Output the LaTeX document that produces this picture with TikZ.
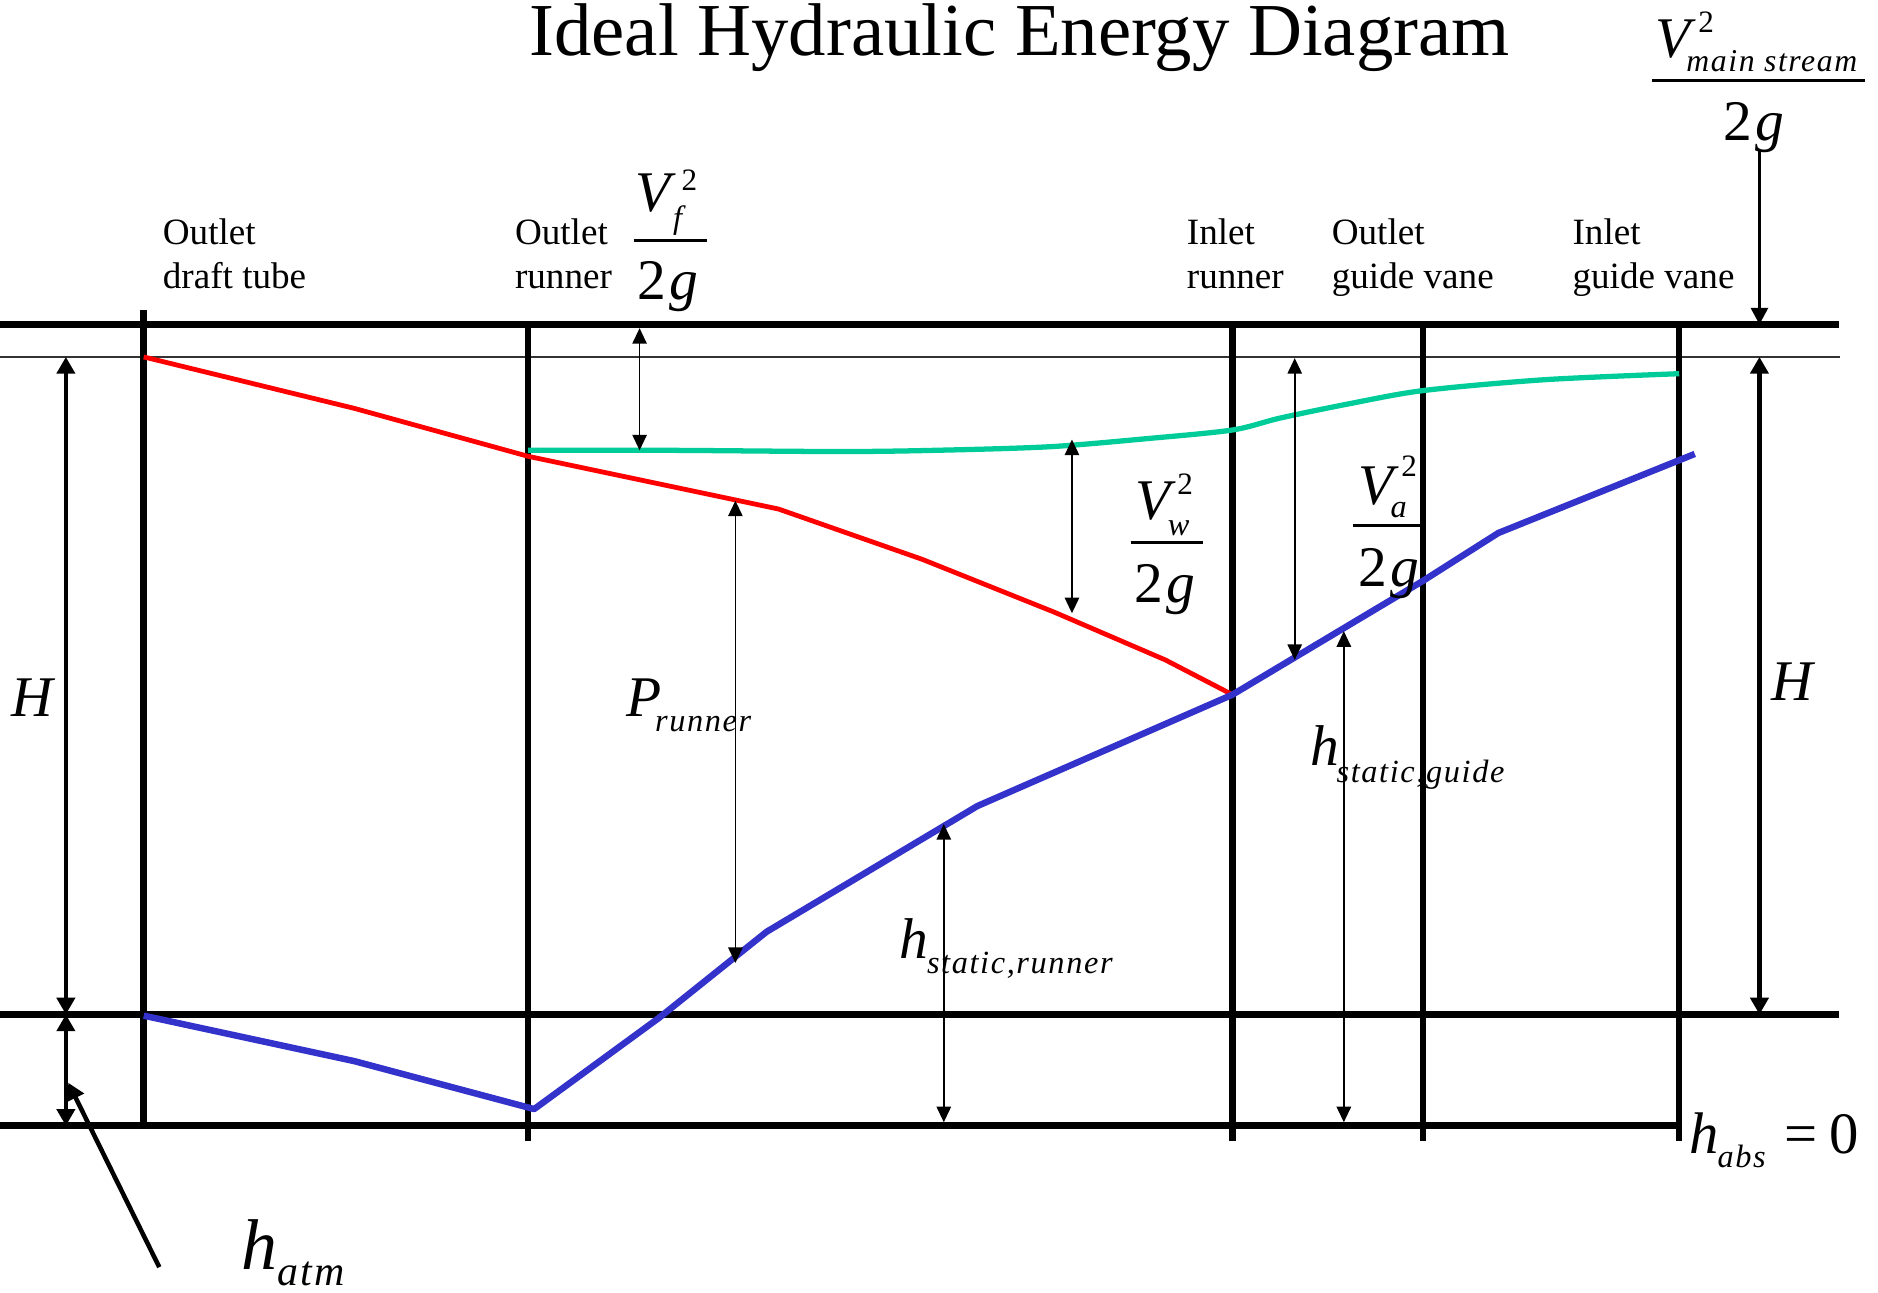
\documentclass[tikz,border=0pt]{standalone}
\usepackage{fontspec}
\setmainfont{Liberation Serif}
\newfontfamily\subfam{Liberation Serif}[LetterSpace=5]
\usetikzlibrary{arrows.meta}
\definecolor{eline}{RGB}{255,0,0}
\definecolor{gline}{RGB}{0,204,153}
\definecolor{bline}{RGB}{51,51,204}
\newcommand\fs[1]{\fontsize{#1}{#1}\selectfont}
\newcommand\twog{\upshape 2\hspace{3pt}\itshape g}
\begin{document}
\begin{tikzpicture}[x=1pt,y=-1pt,
  lbl/.style={inner sep=0pt, outer sep=0pt, anchor=base west},
  loc/.style={lbl, font=\fs{31}},
  mbig/.style={lbl, font=\fs{48}\itshape},
  msub/.style={lbl, font=\subfam\fs{27}\itshape},
  msup/.style={lbl, font=\fs{26}},
  fracbar/.style={line width=2.2pt},
  heavy/.style={line width=6pt},
  hairline/.style={line width=1.4pt, black!80},
  vbar/.style={line width=5.5pt},
  redl/.style={line width=4pt, eline, line join=round},
  greenl/.style={line width=4.4pt, gline, line join=round},
  bluel/.style={line width=5.4pt, bline, line join=round},
  dim/.style={line width=1.4pt, {Triangle[length=13pt,width=12pt]}-{Triangle[length=13pt,width=12pt]}},
  bigdim/.style={line width=3.8pt, {Triangle[length=14pt,width=15pt]}-{Triangle[length=14pt,width=15pt]}},
  downarrow/.style={line width=3pt, -{Triangle[length=14pt,width=14pt]}},
  pointer/.style={line width=3.8pt, -{Triangle[length=14pt,width=15pt]}}
]
\useasboundingbox (0,0) rectangle (1568,1079);

% grid lines
\draw[heavy] (0,271) -- (1535,271);
\draw[hairline] (0,298) -- (1536,298);
\draw[heavy] (0,847) -- (1535,847);
\draw[heavy] (0,940) -- (1404,940);
\draw[vbar] (120,259) -- (120,940);
\foreach \x in {441,1029,1188,1402} \draw[vbar] (\x,271) -- (\x,953);

% energy lines
\draw[greenl] plot[smooth,tension=0.5] coordinates {(441,376) (560,376) (700,377) (780,376) (876,373) (960,366) (1029,359) (1069,349) (1127,337) (1189,326) (1290,317) (1402,312)};
\draw[redl] (120,298) -- (296,341) -- (441,381) -- (650,425) -- (770,467) -- (880,511) -- (973,551) -- (1029,580);
\draw[bluel] (120,848) -- (296,886) -- (446,926) -- (550,850) -- (640,778) -- (816,673) -- (1029,580) -- (1188,485) -- (1251,445) -- (1415,379);

% coordinates for dimension arrows
\coordinate (hLt) at (55,298);  \coordinate (hLb) at (55,847);
\coordinate (aT) at (55,847);   \coordinate (aB) at (55,940);
\coordinate (hRt) at (1469,298); \coordinate (hRb) at (1469,847);
\coordinate (msT) at (1469,125); \coordinate (msB) at (1469,271);
\coordinate (vfT) at (534,274); \coordinate (vfB) at (534,376);
\coordinate (vwT) at (895,367); \coordinate (vwB) at (895,512);
\coordinate (prT) at (614,418); \coordinate (prB) at (614,804);
\coordinate (srT) at (788,688); \coordinate (srB) at (788,937);
\coordinate (vaT) at (1081,299); \coordinate (vaB) at (1081,551);
\coordinate (sgT) at (1122,527); \coordinate (sgB) at (1122,937);
\coordinate (pS) at (133,1058); \coordinate (pE) at (57,904);

\draw[bigdim] (hLt) -- (hLb);
\draw[bigdim] (aT) -- (aB);
\draw[bigdim] (hRt) -- (hRb);
\draw[downarrow] (msT) -- (msB);
\draw[dim] (vfT) -- (vfB);
\draw[dim] (vwT) -- (vwB);
\draw[dim] (prT) -- (prB);
\draw[dim] (srT) -- (srB);
\draw[dim] (vaT) -- (vaB);
\draw[dim] (sgT) -- (sgB);
\draw[pointer] (pS) -- (pE);

% title
\node[lbl, font=\fs{62.4}] (title) at (442,46) {Ideal Hydraulic Energy Diagram};

% location labels
\node[loc] (l1a) at (136,204) {Outlet};
\node[loc] (l1b) at (136,241) {draft tube};
\node[loc] (l2a) at (430,204) {Outlet};
\node[loc] (l2b) at (430,241) {runner};
\node[loc] (l3a) at (991,204) {Inlet};
\node[loc] (l3b) at (991,241) {runner};
\node[loc] (l4a) at (1112,204) {Outlet};
\node[loc] (l4b) at (1112,241) {guide vane};
\node[loc] (l5a) at (1313,204) {Inlet};
\node[loc] (l5b) at (1313,241) {guide vane};

% V_f^2/2g
\node[mbig] (vfV) at (531,177) {V};
\node[msub] (vfS) at (562,191) {f};
\node[msup] (vfP) at (569,159) {2};
\draw[fracbar] (529,201) -- (590,201);
\node[mbig] (vfD) at (532,250) {\twog};

% V_w^2/2g
\node[mbig] (vwV) at (948,434) {V};
\node[msub] (vwS) at (975,447) {w};
\node[msup] (vwP) at (983,413) {2};
\draw[fracbar] (944,453) -- (1004,453);
\node[mbig] (vwD) at (947,503) {\twog};

% V_a^2/2g
\node[mbig] (vaV) at (1134,421) {V};
\node[msub] (vaS) at (1161,432) {a};
\node[msup] (vaP) at (1170,398) {2};
\draw[fracbar] (1130,439) -- (1186,439);
\node[mbig] (vaD) at (1134,490) {\twog};

% V_mainstream^2/2g
\node[mbig] (msV) at (1382,48) {V};
\node[msub, font=\subfam\fs{26.5}\itshape] (msS) at (1408,60) {main stream};
\node[msup] (msP) at (1418,27) {2};
\draw[fracbar] (1379,67) -- (1557,67);
\node[mbig] (msD) at (1439,117) {\twog};

% H labels
\node[mbig] (HL) at (10,598) {H};
\node[mbig] (HR) at (1479,585) {H};

% P_runner
\node[mbig] (PrP) at (523,598) {P};
\node[msub] (PrS) at (547,611) {runner};

% h_static,runner
\node[mbig] (srh) at (751,800) {h};
\node[msub] (srS) at (774,813) {static,runner};

% h_static,guide
\node[mbig] (sgh) at (1094,639) {h};
\node[msub] (sgS) at (1116,653) {static,guide};

% h_atm
\node[lbl, font=\fs{60}\itshape] (ath) at (202,1060) {h};
\node[lbl, font=\subfam\fs{35}\itshape] (atS) at (232,1073) {atm};

% h_abs = 0
\node[lbl, font=\fs{49}\itshape] (abh) at (1411,963) {h};
\node[msub] (abS) at (1434,975) {abs};
\node[lbl, font=\fs{49}] (abE) at (1490,963) {=\hspace{10pt}0};
\end{tikzpicture}
\end{document}
